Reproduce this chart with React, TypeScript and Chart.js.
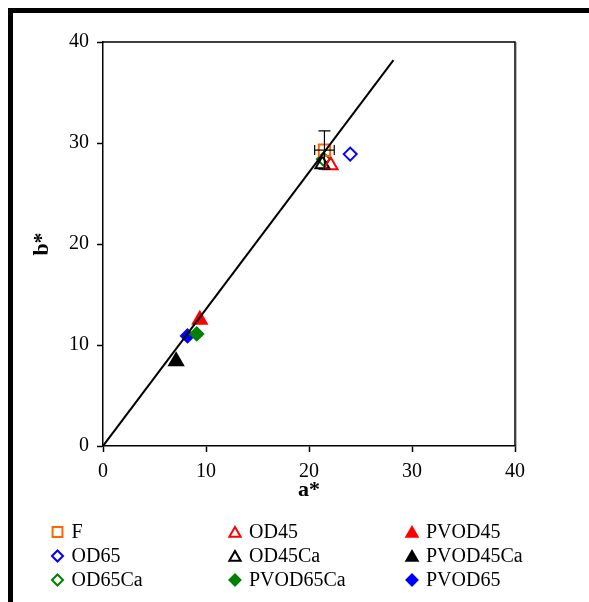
import React, { useEffect, useRef } from 'react';
import { Chart, registerables } from 'chart.js';
import { drawPoint } from 'chart.js/helpers';

Chart.register(...registerables);

const FONT = '"Liberation Serif", "Times New Roman", serif';

// Series (row-major legend order)
const seriesNames = ['F', 'OD45', 'PVOD45', 'OD65', 'OD45Ca', 'PVOD45Ca', 'OD65Ca', 'PVOD65Ca', 'PVOD65'];
const seriesA = [21.5, 22.1, 9.4, 24.0, 21.3, 7.1, 21.4, 9.1, 8.2];
const seriesB = [29.3, 27.8, 12.5, 28.9, 27.9, 8.4, 28.4, 11.1, 10.9];
const seriesErrA = [0.95, 0, 0, 0, 0, 0, 0, 0, 0];
const seriesErrB = [1.9, 0, 0, 0, 0, 0, 0, 0, 0];
const seriesColors = ['#FF6600', '#FF0000', '#FF0000', '#0000FF', '#000000', '#000000', '#008000', '#008000', '#0000FF'];
const seriesFilled = [false, false, true, false, false, true, false, true, true];
const seriesShapes = ['rect', 'triangle', 'triangle', 'rectRot', 'triangle', 'triangle', 'rectRot', 'rectRot', 'rectRot'];

// Fitted line
const lineA = [0, 28.2];
const lineB = [0, 38.2];

// Axis ticks
const xTicks = [0, 10, 20, 30, 40];
const yTicks = [0, 10, 20, 30, 40];

const shapeRadius: Record<string, number> = { rect: 8, triangle: 8, rectRot: 6.5 };
const legendRadius: Record<string, number> = { rect: 7, triangle: 6.5, rectRot: 5.5 };

const boxPlugin = {
  id: 'box',
  afterDraw(chart: any) {
    const { ctx, chartArea } = chart;
    ctx.save();
    ctx.strokeStyle = '#000';
    ctx.lineWidth = 1.5;
    ctx.beginPath();
    ctx.moveTo(chartArea.left, chartArea.top);
    ctx.lineTo(chartArea.right, chartArea.top);
    ctx.lineTo(chartArea.right, chartArea.bottom);
    ctx.stroke();
    ctx.strokeStyle = '#bbbbbb';
    ctx.lineWidth = 1;
    ctx.beginPath();
    ctx.moveTo(chartArea.right + 1.5, chartArea.top);
    ctx.lineTo(chartArea.right + 1.5, chartArea.bottom + 1);
    ctx.stroke();
    ctx.restore();
  },
};

const errorBarPlugin = {
  id: 'errbars',
  afterDatasetsDraw(chart: any) {
    const { ctx } = chart;
    const xs = chart.scales.x;
    const ys = chart.scales.y;
    ctx.save();
    ctx.strokeStyle = '#000';
    ctx.lineWidth = 1.2;
    seriesNames.forEach((_, i) => {
      const ea = seriesErrA[i];
      const eb = seriesErrB[i];
      const cx = xs.getPixelForValue(seriesA[i]);
      const cy = ys.getPixelForValue(seriesB[i]);
      if (eb > 0) {
        const y1 = ys.getPixelForValue(seriesB[i] + eb);
        const y2 = ys.getPixelForValue(seriesB[i] - eb);
        ctx.beginPath();
        ctx.moveTo(cx, y1); ctx.lineTo(cx, y2);
        ctx.moveTo(cx - 6, y1); ctx.lineTo(cx + 6, y1);
        ctx.moveTo(cx - 6, y2); ctx.lineTo(cx + 6, y2);
        ctx.stroke();
      }
      if (ea > 0) {
        const x1 = xs.getPixelForValue(seriesA[i] - ea);
        const x2 = xs.getPixelForValue(seriesA[i] + ea);
        ctx.beginPath();
        ctx.moveTo(x1, cy); ctx.lineTo(x2, cy);
        ctx.moveTo(x1, cy - 5); ctx.lineTo(x1, cy + 5);
        ctx.moveTo(x2, cy - 5); ctx.lineTo(x2, cy + 5);
        ctx.stroke();
      }
    });
    ctx.restore();
  },
};

const legendPlugin = {
  id: 'gridLegend',
  afterDraw(chart: any) {
    const { ctx } = chart;
    const colMarkerX = [44.5, 222, 399];
    const rowY = [519, 543, 567];
    ctx.save();
    ctx.font = `20px ${FONT}`;
    ctx.textBaseline = 'middle';
    ctx.textAlign = 'left';
    seriesNames.forEach((name, i) => {
      const col = i % 3;
      const row = Math.floor(i / 3);
      const x = colMarkerX[col];
      const y = rowY[row];
      ctx.fillStyle = seriesFilled[i] ? seriesColors[i] : 'rgba(0,0,0,0)';
      ctx.strokeStyle = seriesColors[i];
      ctx.lineWidth = 2;
      const shape = seriesShapes[i];
      const yAdj = shape === 'triangle' ? 1.5 : 0;
      drawPoint(ctx, { pointStyle: shape, rotation: 0, radius: legendRadius[shape], borderWidth: 2 }, x, y + yAdj);
      ctx.fillStyle = '#000';
      ctx.fillText(name, x + 14, y + 1);
    });
    ctx.restore();
  },
};

export default function App() {
  const ref = useRef<HTMLCanvasElement | null>(null);

  useEffect(() => {
    if (!ref.current) return;
    const scatterSets = seriesNames.map((name, i) => ({
      type: 'scatter' as const,
      label: name,
      data: [{ x: seriesA[i], y: seriesB[i] }],
      pointStyle: seriesShapes[i],
      pointRadius: shapeRadius[seriesShapes[i]],
      pointHoverRadius: shapeRadius[seriesShapes[i]],
      pointBorderWidth: 2,
      borderWidth: 2,
      borderColor: seriesColors[i],
      backgroundColor: seriesFilled[i] ? seriesColors[i] : 'rgba(0,0,0,0)',
      order: 1,
    }));
    const lineSet = {
      type: 'line' as const,
      label: 'fit',
      data: lineA.map((a, i) => ({ x: a, y: lineB[i] })),
      borderColor: '#000',
      borderWidth: 2,
      pointRadius: 0,
      fill: false,
      order: 0,
    };
    const chart = new Chart(ref.current, {
      type: 'scatter',
      data: { datasets: [...scatterSets, lineSet] as any },
      options: {
        responsive: false,
        animation: false,
        events: [],
        layout: { padding: { left: 0, top: 29, right: 74, bottom: 90 } },
        plugins: { legend: { display: false }, tooltip: { enabled: false } },
        scales: {
          x: {
            type: 'linear',
            min: 0,
            max: 40,
            afterBuildTicks: (s: any) => { s.ticks = xTicks.map((v) => ({ value: v })); },
            afterFit: (s: any) => { s.height = 58; },
            ticks: { color: '#000', font: { family: FONT, size: 20, lineHeight: 1 }, padding: 10, maxRotation: 0 },
            grid: { drawOnChartArea: false, drawTicks: true, tickLength: 6, color: '#000', tickWidth: 1.5 },
            border: { color: '#000', width: 1.5 },
            title: { display: true, text: 'a*', color: '#000', font: { family: FONT, size: 22, weight: 'bold' }, padding: 0 },
          },
          y: {
            type: 'linear',
            min: 0,
            max: 40,
            afterBuildTicks: (s: any) => { s.ticks = yTicks.map((v) => ({ value: v })); },
            afterFit: (s: any) => { s.width = 90; },
            ticks: { color: '#000', font: { family: FONT, size: 20 }, padding: 8 },
            grid: { drawOnChartArea: false, drawTicks: true, tickLength: 6, color: '#000', tickWidth: 1.5 },
            border: { color: '#000', width: 1.5 },
            title: { display: true, text: 'b*', color: '#000', font: { family: FONT, size: 22, weight: 'bold' }, padding: { top: 16, bottom: 0 } },
          },
        },
      },
      plugins: [boxPlugin, errorBarPlugin, legendPlugin],
    });
    return () => chart.destroy();
  }, []);

  return (
    <div
      style={{
        position: 'fixed',
        left: 8,
        top: 8,
        right: 0,
        bottom: 0,
        borderLeft: '5px solid #000',
        borderTop: '5px solid #000',
        background: '#fff',
        overflow: 'hidden',
      }}
    >
      <canvas ref={ref} width={576} height={581} style={{ display: 'block', width: 576, height: 581 }} />
    </div>
  );
}
